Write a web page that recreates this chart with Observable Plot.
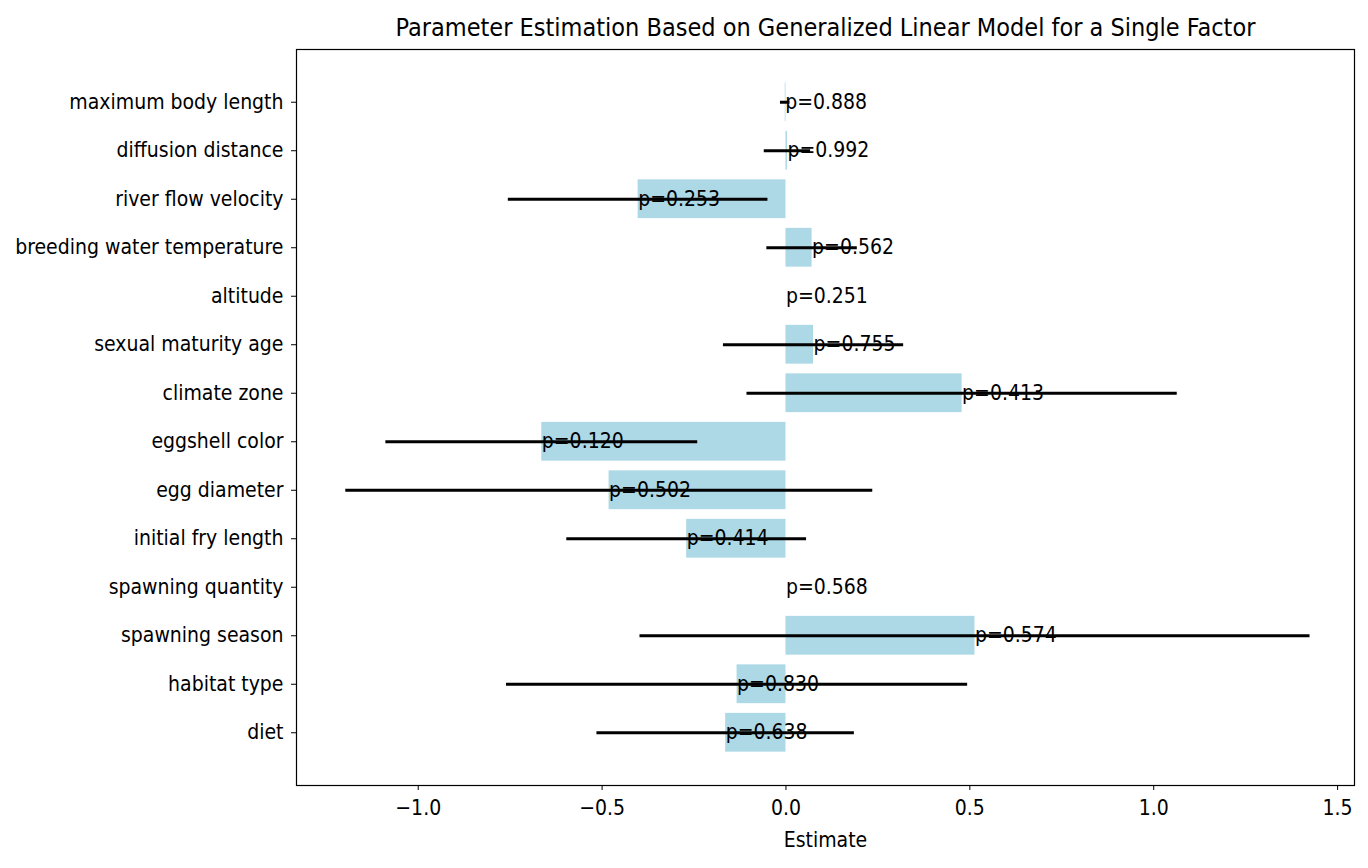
<!DOCTYPE html>
<html>
<head>
<meta charset="utf-8">
<script src="https://cdn.jsdelivr.net/npm/d3@7"></script>
<script src="https://cdn.jsdelivr.net/npm/@observablehq/plot@0.6"></script>
<style>
  html, body { margin: 0; padding: 0; background: #fff; }
  #chart svg { display: block; }
</style>
</head>
<body>
<div id="chart"></div>
<script>
const factors = ["maximum body length", "diffusion distance", "river flow velocity", "breeding water temperature", "altitude", "sexual maturity age", "climate zone", "eggshell color", "egg diameter", "initial fry length", "spawning quantity", "spawning season", "habitat type", "diet"];
const estimates = [-0.002, 0.004, -0.402, 0.071, 0, 0.075, 0.479, -0.664, -0.481, -0.270, 0, 0.514, -0.133, -0.164];
const ciLower = [-0.015, -0.059, -0.755, -0.052, null, -0.170, -0.106, -1.088, -1.197, -0.596, null, -0.397, -0.760, -0.514];
const ciUpper = [0.011, 0.067, -0.049, 0.194, null, 0.320, 1.064, -0.240, 0.236, 0.056, null, 1.425, 0.494, 0.186];
const pValues = ["0.888", "0.992", "0.253", "0.562", "0.251", "0.755", "0.413", "0.120", "0.502", "0.414", "0.568", "0.574", "0.830", "0.638"];
const xTicks = [-1.0, -0.5, 0.0, 0.5, 1.0, 1.5];
const title = "Parameter Estimation Based on Generalized Linear Model for a Single Factor";
const xLabel = "Estimate";

const rows = factors.map((f, i) => ({name: f, est: estimates[i], lo: ciLower[i], hi: ciUpper[i], p: pValues[i]}));

const FONT = "'DejaVu Sans Condensed', 'DejaVu Sans', sans-serif";

const chart = Plot.plot({
  width: 1368,
  height: 868,
  marginLeft: 296,
  marginRight: 14,
  marginTop: 49,
  marginBottom: 83,
  style: {fontFamily: FONT, fontSize: "21px", color: "black", background: "white"},
  x: {domain: [-1.331, 1.546], ticks: xTicks, tickFormat: d3.format(".1f"), label: null, tickSize: 5, tickPadding: 10},
  y: {domain: factors, paddingInner: 0.2, paddingOuter: 0.6875, round: false, label: null, tickSize: 5, tickPadding: 8},
  marks: [
    Plot.barX(rows, {x: "est", y: "name", fill: "#add8e6"}),
    Plot.ruleY(rows, {y: "name", x1: "lo", x2: "hi", stroke: "black", strokeWidth: 3}),
    Plot.text(rows, {x: "est", y: "name", text: d => "p=" + d.p, textAnchor: "start", fill: "black", fontSize: 21}),
    Plot.frame({stroke: "black", strokeWidth: 1.2}),
    Plot.axisX({ticks: xTicks, tickFormat: d3.format(".1f"), tickSize: 5, tickPadding: 10, label: null, fontSize: 21}),
    Plot.axisY({tickSize: 5, tickPadding: 8, label: null, fontSize: 21}),
    Plot.text([xLabel], {frameAnchor: "bottom", lineAnchor: "middle", dy: 55, text: d => d, fontSize: 21, fill: "black"}),
    Plot.text([title], {frameAnchor: "top", lineAnchor: "middle", dy: -22, text: d => d, fontSize: 25, fill: "black"})
  ]
});

document.getElementById("chart").appendChild(chart);
</script>
</body>
</html>
